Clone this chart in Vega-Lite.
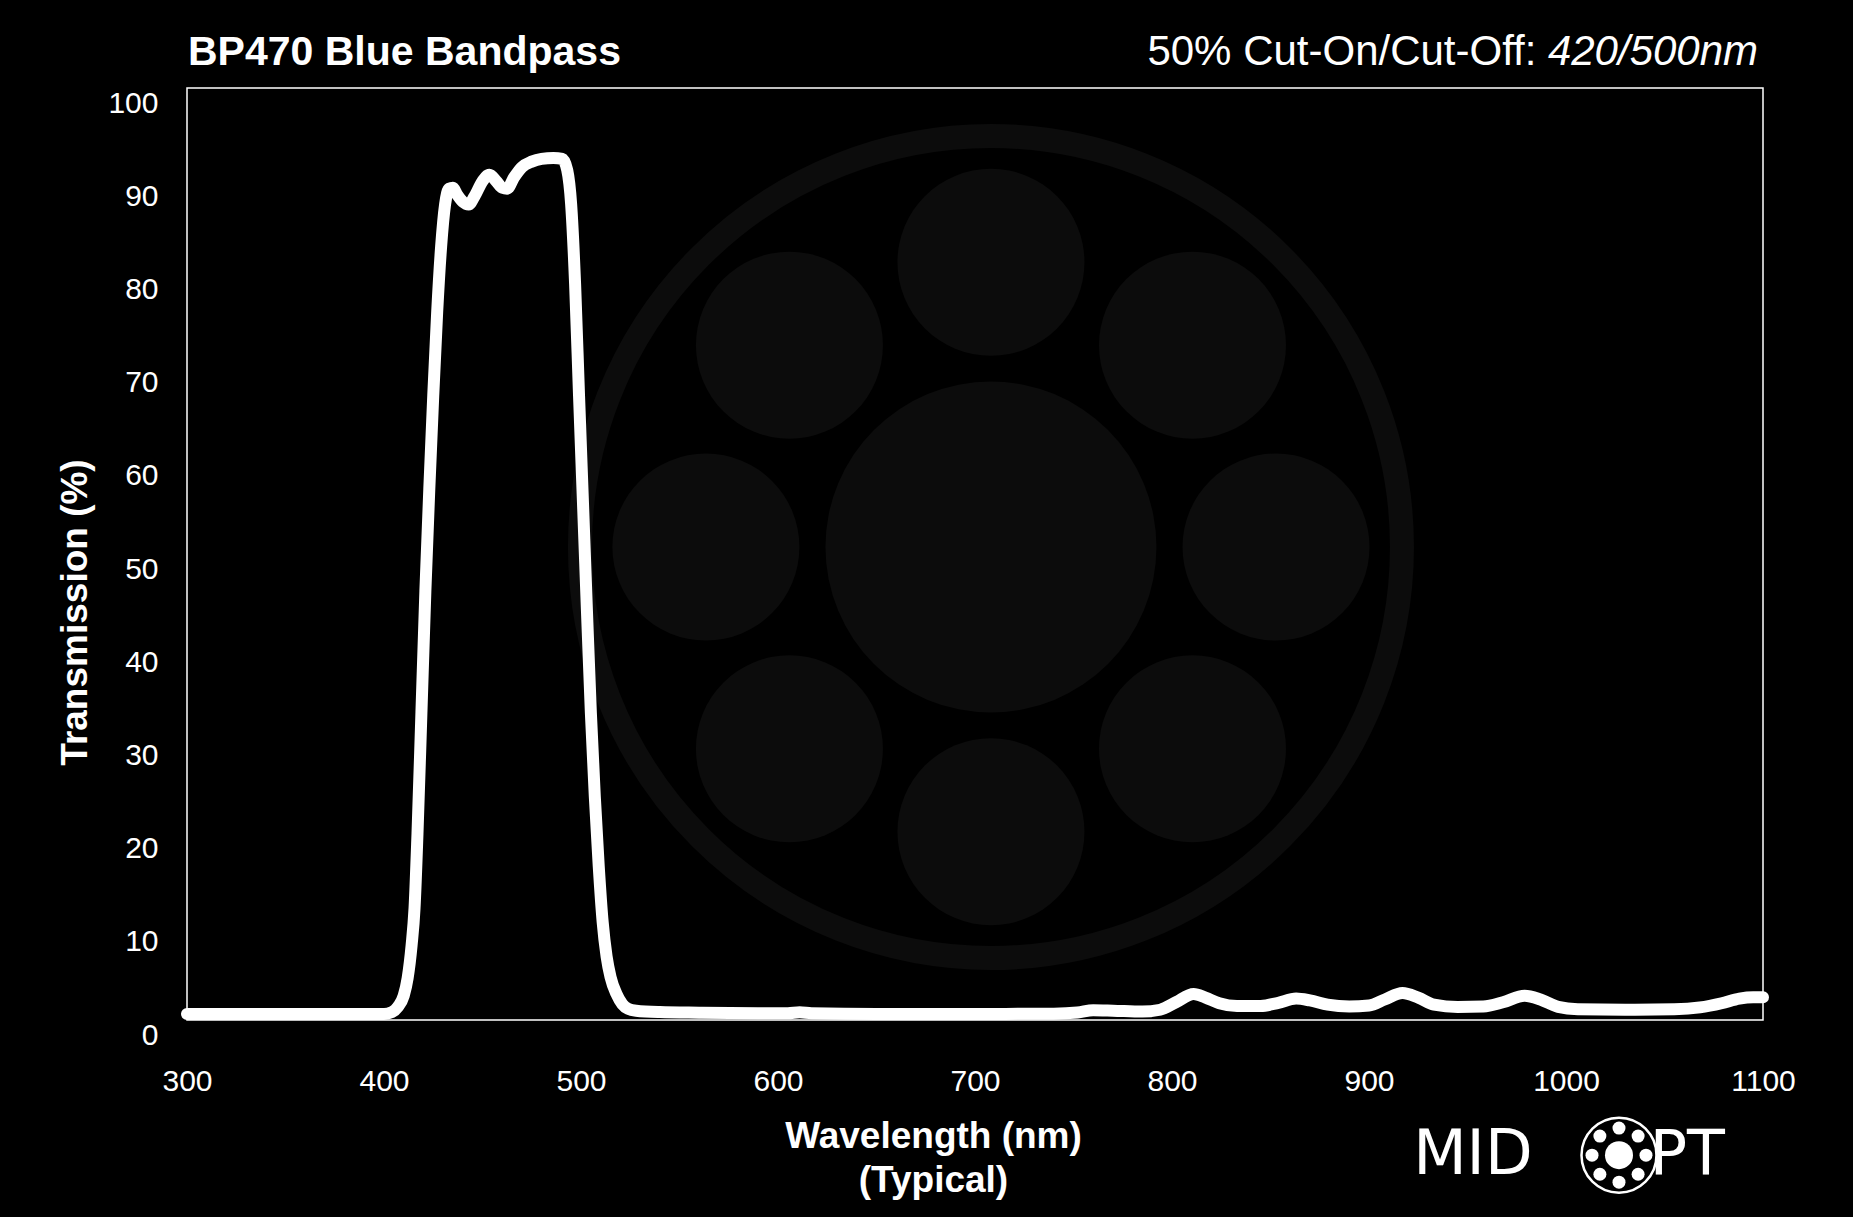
{
  "$schema": "https://vega.github.io/schema/vega-lite/v6.json",
  "width": 1576,
  "height": 932,
  "autosize": {"type": "none"},
  "padding": {"left": 187, "top": 88, "right": 90, "bottom": 197},
  "background": "#000000",
  "config": {
    "view": {"stroke": "#ffffff", "strokeWidth": 1.5},
    "font": "Liberation Sans"
  },
  "datasets": {
    "curve": [
      {"wl": 300, "t": 0.65}, {"wl": 330, "t": 0.65}, {"wl": 370, "t": 0.65}, {"wl": 400, "t": 0.65},
      {"wl": 404, "t": 0.85}, {"wl": 407, "t": 1.4}, {"wl": 410, "t": 2.6}, {"wl": 412, "t": 4.5},
      {"wl": 414, "t": 8.0}, {"wl": 415.5, "t": 12}, {"wl": 417, "t": 20}, {"wl": 419, "t": 33},
      {"wl": 421, "t": 46}, {"wl": 423, "t": 57}, {"wl": 425, "t": 67}, {"wl": 427, "t": 76},
      {"wl": 429, "t": 83}, {"wl": 431, "t": 87.5}, {"wl": 433, "t": 89.2}, {"wl": 435, "t": 89.3},
      {"wl": 437, "t": 88.6}, {"wl": 440, "t": 87.8}, {"wl": 443, "t": 87.5}, {"wl": 446, "t": 88.4},
      {"wl": 450, "t": 90.0}, {"wl": 453.5, "t": 90.7}, {"wl": 457, "t": 90.0}, {"wl": 460, "t": 89.3},
      {"wl": 462.5, "t": 89.2}, {"wl": 466, "t": 90.4}, {"wl": 470, "t": 91.5}, {"wl": 475, "t": 92.1},
      {"wl": 480, "t": 92.4}, {"wl": 486, "t": 92.5}, {"wl": 490.5, "t": 92.4}, {"wl": 493, "t": 91.2},
      {"wl": 495, "t": 87.5}, {"wl": 497, "t": 79}, {"wl": 499, "t": 67}, {"wl": 501, "t": 55.5},
      {"wl": 503, "t": 44}, {"wl": 505, "t": 33}, {"wl": 507, "t": 24}, {"wl": 509, "t": 16.5},
      {"wl": 511, "t": 10.5}, {"wl": 513, "t": 6.8}, {"wl": 515, "t": 4.6}, {"wl": 518, "t": 2.8},
      {"wl": 521, "t": 1.7}, {"wl": 524, "t": 1.2}, {"wl": 528, "t": 1.0}, {"wl": 540, "t": 0.85},
      {"wl": 560, "t": 0.78}, {"wl": 590, "t": 0.72}, {"wl": 605, "t": 0.72}, {"wl": 611, "t": 0.82},
      {"wl": 617, "t": 0.72}, {"wl": 650, "t": 0.65}, {"wl": 700, "t": 0.65}, {"wl": 740, "t": 0.68},
      {"wl": 752, "t": 0.8}, {"wl": 760, "t": 1.05}, {"wl": 770, "t": 1.0}, {"wl": 785, "t": 0.9},
      {"wl": 794, "t": 1.1}, {"wl": 802, "t": 1.9}, {"wl": 811, "t": 2.8}, {"wl": 817, "t": 2.4},
      {"wl": 824, "t": 1.8}, {"wl": 833, "t": 1.5}, {"wl": 845, "t": 1.5}, {"wl": 854, "t": 1.85},
      {"wl": 863, "t": 2.3}, {"wl": 870, "t": 2.1}, {"wl": 879, "t": 1.65}, {"wl": 890, "t": 1.45},
      {"wl": 900, "t": 1.55}, {"wl": 908, "t": 2.2}, {"wl": 917, "t": 2.9}, {"wl": 925, "t": 2.4},
      {"wl": 933, "t": 1.65}, {"wl": 945, "t": 1.4}, {"wl": 958, "t": 1.45}, {"wl": 968, "t": 1.9},
      {"wl": 979, "t": 2.6}, {"wl": 987, "t": 2.2}, {"wl": 996, "t": 1.4}, {"wl": 1006, "t": 1.15},
      {"wl": 1030, "t": 1.1}, {"wl": 1055, "t": 1.15}, {"wl": 1068, "t": 1.35}, {"wl": 1079, "t": 1.8},
      {"wl": 1088, "t": 2.3}, {"wl": 1095, "t": 2.45}, {"wl": 1100, "t": 2.45}
    ],
    "watermark": [
      {"part": "ring", "wl": 708.1, "t": 50.75},
      {"part": "center", "wl": 708.1, "t": 50.75},
      {"part": "small", "wl": 708.1, "t": 81.3},
      {"part": "small", "wl": 708.1, "t": 20.2},
      {"part": "small", "wl": 563.4, "t": 50.75},
      {"part": "small", "wl": 852.8, "t": 50.75},
      {"part": "small", "wl": 605.8, "t": 72.4},
      {"part": "small", "wl": 810.4, "t": 72.4},
      {"part": "small", "wl": 605.8, "t": 29.1},
      {"part": "small", "wl": 810.4, "t": 29.1}
    ],
    "logo": [
      {"part": "ring", "wl": 1026.9, "t": -14.5},
      {"part": "center", "wl": 1026.9, "t": -14.5},
      {"part": "dot", "wl": 1026.9, "t": -11.6},
      {"part": "dot", "wl": 1026.9, "t": -17.4},
      {"part": "dot", "wl": 1013.2, "t": -14.5},
      {"part": "dot", "wl": 1040.6, "t": -14.5},
      {"part": "dot", "wl": 1017.2, "t": -12.45},
      {"part": "dot", "wl": 1036.6, "t": -12.45},
      {"part": "dot", "wl": 1017.2, "t": -16.55},
      {"part": "dot", "wl": 1036.6, "t": -16.55}
    ],
    "texts": [
      {"id": "title", "label": "BP470 Blue Bandpass"},
      {"id": "cut", "label": "50% Cut-On/Cut-Off:"},
      {"id": "cutval", "label": "420/500nm"},
      {"id": "mid", "label": "MID"},
      {"id": "pt", "label": "PT"}
    ]
  },
  "layer": [
    {
      "data": {"name": "watermark"},
      "transform": [{"filter": "datum.part === 'ring'"}],
      "mark": {"type": "point", "shape": "circle", "filled": false, "stroke": "#0c0c0c", "strokeWidth": 24, "size": 675684, "opacity": 1},
      "encoding": {
        "x": {"field": "wl", "type": "quantitative"},
        "y": {"field": "t", "type": "quantitative"}
      }
    },
    {
      "data": {"name": "watermark"},
      "transform": [{"filter": "datum.part === 'center'"}],
      "mark": {"type": "point", "shape": "circle", "filled": true, "fill": "#0c0c0c", "size": 109561, "opacity": 1},
      "encoding": {
        "x": {"field": "wl", "type": "quantitative"},
        "y": {"field": "t", "type": "quantitative"}
      }
    },
    {
      "data": {"name": "watermark"},
      "transform": [{"filter": "datum.part === 'small'"}],
      "mark": {"type": "point", "shape": "circle", "filled": true, "fill": "#0c0c0c", "size": 34969, "opacity": 1},
      "encoding": {
        "x": {"field": "wl", "type": "quantitative"},
        "y": {"field": "t", "type": "quantitative"}
      }
    },
    {
      "data": {"name": "curve"},
      "mark": {"type": "line", "color": "#ffffff", "strokeWidth": 12, "interpolate": "monotone", "strokeCap": "round", "strokeJoin": "round"},
      "encoding": {
        "x": {
          "field": "wl",
          "type": "quantitative",
          "scale": {"domain": [300, 1100], "nice": false, "zero": false},
          "axis": {
            "values": [300, 400, 500, 600, 700, 800, 900, 1000, 1100],
            "format": "d",
            "grid": false, "domain": false, "ticks": false, "tickSize": 0,
            "labelFont": "Liberation Sans", "labelFontSize": 30, "labelColor": "#ffffff",
            "labelBaseline": "middle", "labelPadding": 61, "labelFlush": false, "labelOverlap": false,
            "title": ["Wavelength (nm)", "(Typical)"],
            "titleFont": "Liberation Sans", "titleFontSize": 37, "titleFontWeight": "bold",
            "titleColor": "#ffffff", "titleX": 746, "titleY": 127, "titleBaseline": "alphabetic",
            "titleAlign": "center", "titleLineHeight": 44
          }
        },
        "y": {
          "field": "t",
          "type": "quantitative",
          "scale": {"domain": [0, 100], "nice": false, "zero": false},
          "axis": {
            "values": [0, 10, 20, 30, 40, 50, 60, 70, 80, 90, 100],
            "grid": false, "domain": false, "ticks": false, "tickSize": 0,
            "labelFont": "Liberation Sans", "labelFontSize": 30, "labelColor": "#ffffff",
            "labelBaseline": "middle", "labelPadding": 29, "labelOffset": 15, "labelOverlap": false,
            "title": "Transmission (%)",
            "titleFont": "Liberation Sans", "titleFontSize": 37, "titleFontWeight": "bold",
            "titleColor": "#ffffff", "titleX": -101, "titleY": 524, "titleBaseline": "alphabetic",
            "titleAlign": "center", "titleAngle": 270
          }
        }
      }
    },
    {
      "data": {"name": "texts"},
      "transform": [{"filter": "datum.id === 'title'"}],
      "mark": {"type": "text", "align": "left", "baseline": "alphabetic", "font": "Liberation Sans", "fontSize": 41, "fontWeight": "bold", "fill": "#ffffff", "opacity": 1},
      "encoding": {
        "x": {"datum": 300.5, "type": "quantitative"},
        "y": {"datum": 102.5, "type": "quantitative"},
        "text": {"field": "label", "type": "nominal"}
      }
    },
    {
      "data": {"name": "texts"},
      "transform": [{"filter": "datum.id === 'cut'"}],
      "mark": {"type": "text", "align": "right", "baseline": "alphabetic", "font": "Liberation Sans", "fontSize": 42, "fill": "#ffffff", "opacity": 1},
      "encoding": {
        "x": {"datum": 985, "type": "quantitative"},
        "y": {"datum": 102.5, "type": "quantitative"},
        "text": {"field": "label", "type": "nominal"}
      }
    },
    {
      "data": {"name": "texts"},
      "transform": [{"filter": "datum.id === 'cutval'"}],
      "mark": {"type": "text", "align": "right", "baseline": "alphabetic", "font": "Liberation Sans", "fontSize": 42, "fontStyle": "italic", "fill": "#ffffff", "opacity": 1},
      "encoding": {
        "x": {"datum": 1097.5, "type": "quantitative"},
        "y": {"datum": 102.5, "type": "quantitative"},
        "text": {"field": "label", "type": "nominal"}
      }
    },
    {
      "data": {"name": "texts"},
      "transform": [{"filter": "datum.id === 'mid'"}],
      "mark": {"type": "text", "align": "left", "baseline": "middle", "font": "DejaVu Sans", "fontWeight": "normal", "fontSize": 62, "letterSpacing": 17, "fill": "#ffffff", "opacity": 1},
      "encoding": {
        "x": {"datum": 922.4, "type": "quantitative"},
        "y": {"datum": -14.5, "type": "quantitative"},
        "text": {"field": "label", "type": "nominal"}
      }
    },
    {
      "data": {"name": "texts"},
      "transform": [{"filter": "datum.id === 'pt'"}],
      "mark": {"type": "text", "align": "left", "baseline": "middle", "font": "DejaVu Sans", "fontWeight": "normal", "fontSize": 62, "letterSpacing": 24, "fill": "#ffffff", "opacity": 1},
      "encoding": {
        "x": {"datum": 1042.5, "type": "quantitative"},
        "y": {"datum": -14.5, "type": "quantitative"},
        "text": {"field": "label", "type": "nominal"}
      }
    },
    {
      "data": {"name": "logo"},
      "transform": [{"filter": "datum.part === 'ring'"}],
      "mark": {"type": "point", "shape": "circle", "filled": false, "stroke": "#ffffff", "strokeWidth": 2.5, "size": 5625, "opacity": 1},
      "encoding": {
        "x": {"field": "wl", "type": "quantitative"},
        "y": {"field": "t", "type": "quantitative"}
      }
    },
    {
      "data": {"name": "logo"},
      "transform": [{"filter": "datum.part === 'center'"}],
      "mark": {"type": "point", "shape": "circle", "filled": true, "fill": "#ffffff", "size": 784, "opacity": 1},
      "encoding": {
        "x": {"field": "wl", "type": "quantitative"},
        "y": {"field": "t", "type": "quantitative"}
      }
    },
    {
      "data": {"name": "logo"},
      "transform": [{"filter": "datum.part === 'dot'"}],
      "mark": {"type": "point", "shape": "circle", "filled": true, "fill": "#ffffff", "size": 169, "opacity": 1},
      "encoding": {
        "x": {"field": "wl", "type": "quantitative"},
        "y": {"field": "t", "type": "quantitative"}
      }
    }
  ]
}
